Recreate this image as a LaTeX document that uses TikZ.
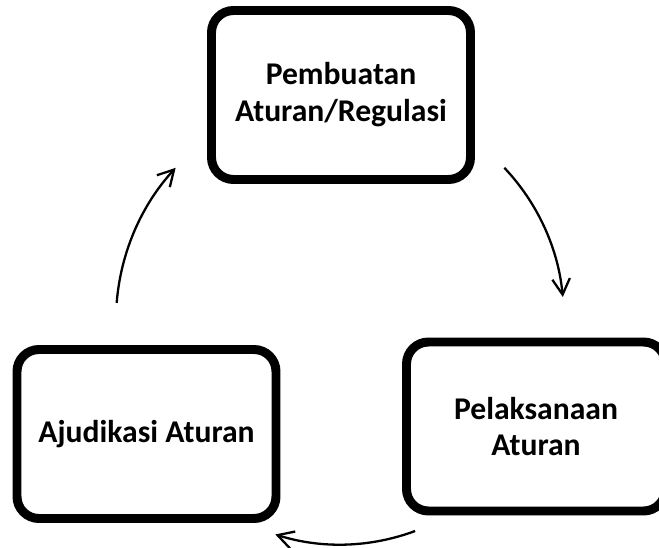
\documentclass[tikz,border=0pt]{standalone}
\usepackage{fontspec}
\setmainfont{Carlito}
\usetikzlibrary{arrows.meta,shadows}

\begin{document}
\begin{tikzpicture}[
  stage/.style={draw, line width=5.1pt, rounded corners=0.44cm, fill=white,
    minimum width=5.18cm, minimum height=3.38cm, align=center,
    font=\fontsize{18}{21}\selectfont\bfseries,
    drop shadow={shadow xshift=0.03cm, shadow yshift=-0.09cm, opacity=0.15}},
  cyc/.style={line width=1.3pt, -{Straight Barb[length=9pt,width=10pt]}}]
\useasboundingbox (0,0) rectangle (13.18,10.96);
\coordinate (ctr) at (6.8,4.56);
\node[stage] (regulasi) at (6.82,9.06) {Pembuatan\\Aturan/Regulasi};
\node[stage] (pelaksanaan) at (10.72,2.43) {Pelaksanaan\\Aturan};
\node[stage] (ajudikasi) at (2.93,2.28) {Ajudikasi Aturan};
% arrows around the cycle
\foreach \n/\a/\b in {1/42.8/5.9, 2/-70.4/-106.8, 3/175.6/137.2} {
    \coordinate (s\n) at ([shift={(\a:4.48)}]ctr);
    \coordinate (e\n) at ([shift={(\b:4.48)}]ctr);
    \draw[cyc] (s\n) to[bend left=19, looseness=0.88] (e\n);
}
\end{tikzpicture}
\end{document}
